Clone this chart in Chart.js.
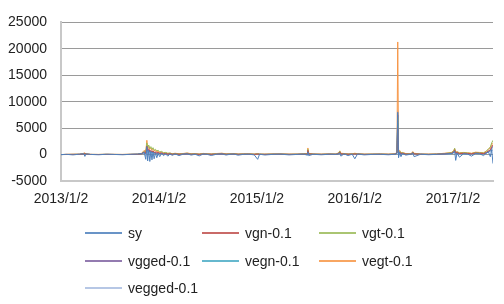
<!DOCTYPE html>
<html>
<head>
<meta charset="utf-8">
<script src="https://cdn.jsdelivr.net/npm/chart.js@4.4.1/dist/chart.umd.min.js"></script>
<style>
  html, body { margin: 0; padding: 0; background: #fff; }
  #wrap { position: relative; width: 504px; height: 304px; overflow: hidden; }
  #chart { position: absolute; left: 0; top: 0; }
  .legend-item { position: absolute; height: 16px; display: flex; align-items: center;
    font: 14px "Liberation Sans", Arial, sans-serif; color: #222; white-space: nowrap; }
  .legend-item .swatch { width: 37px; height: 2px; margin-right: 6px; opacity: 0.85; }
</style>
</head>
<body>
<div id="wrap">
  <canvas id="chart" width="504" height="304"></canvas>
</div>
<script>
// days since 2013/1/2
const days = [
  0, 20, 45, 70, 85, 89, 93, 110, 140, 170, 200, 230, 260, 285, 300,
  310, 316, 320, 323, 327, 331, 335, 339, 343, 347, 352, 357, 362, 368, 375, 382, 390, 398, 406, 415,
  425, 440, 455, 470, 485, 500, 515, 530, 545, 560, 580, 600, 615, 630, 645, 660, 680, 700, 720, 733,
  740, 760, 790, 820, 850, 880, 905, 917, 920, 923, 940, 970, 1000, 1025, 1035, 1039, 1043, 1055, 1070, 1085, 1095, 1105, 1130, 1160, 1190, 1220, 1245, 1252,
  1255, 1258, 1262, 1267, 1272, 1285, 1305, 1311, 1316, 1340, 1370, 1400, 1430, 1455, 1464, 1467, 1471, 1476, 1485, 1500, 1515, 1530, 1545, 1560, 1575, 1585, 1593, 1600, 1605, 1610
];
const tickDays = [0, 365, 730, 1095, 1461];
const tickLabels = ['2013/1/2', '2014/1/2', '2015/1/2', '2016/1/2', '2017/1/2'];
const seriesNames = ['sy', 'vgn-0.1', 'vgt-0.1', 'vgged-0.1', 'vegn-0.1', 'vegt-0.1', 'vegged-0.1'];
const seriesColors = ['#4f81bd', '#c0504d', '#9bbb59', '#8064a2', '#4bacc6', '#f79646', '#a9bde0'];

const sy = [
  0, 40, -60, 80, 150, -350, 120, 30, -40, 60, 20, -30, 50, 90, 200,
  400, -900, 1500, -1200, 800, -1300, 600, -1000, 500, -800, 300, -600, 200, -400, 300, -200, 150, -300, 100, -150,
  120, -200, 80, 150, -100, 60, -250, 100, 40, -180, 70, 130, -90, 50, 90, -120, 40, 60, -50, -900,
  60, -80, 40, 70, -60, 30, 80, -100, 500, -200, 50, -40, 60, 30, 150, 300, -300, 120, -200, 80, -800, 100, -60, 30, 50, -40, 60, 200,
  8000, -600, 400, -400, 200, -100, 80, 300, -400, 60, -30, 40, 120, 200, 400, 700, -1100, 300, -500, 150, 100, -300, 200, 150, -200, 300, 500, -400, 900, -1700
];
const vgn = [
  0, 20, 30, 40, 120, 200, 80, 20, 10, 30, 20, 10, 30, 50, 150,
  500, 300, 1600, 900, 1100, 600, 800, 500, 700, 400, 500, 300, 400, 250, 300, 150, 200, 100, 150, 80,
  120, 60, 100, 150, 70, 90, 40, 110, 80, 50, 90, 140, 60, 80, 100, 50, 70, 80, 40, 100,
  50, 40, 60, 70, 40, 50, 80, 100, 800, 150, 60, 40, 70, 50, 200, 500, 150, 100, 60, 80, 120, 90, 40, 50, 60, 40, 70, 300,
  5000, 400, 500, 200, 250, 100, 80, 400, 150, 60, 40, 60, 150, 250, 500, 900, 300, 400, 200, 250, 200, 150, 300, 250, 200, 400, 700, 900, 1500, 1800
];
const vgt = [
  0, 30, 40, 50, 180, 250, 100, 30, 20, 40, 30, 20, 40, 60, 180,
  600, 400, 2200, 1300, 1800, 1200, 1500, 1000, 1300, 800, 1000, 700, 800, 500, 600, 350, 400, 250, 300, 150,
  200, 100, 160, 250, 120, 140, 80, 180, 120, 90, 150, 220, 90, 130, 160, 80, 110, 120, 70, 150,
  80, 60, 90, 100, 60, 80, 120, 150, 1000, 200, 90, 60, 100, 80, 300, 650, 200, 150, 90, 120, 200, 130, 60, 80, 90, 60, 100, 400,
  7000, 500, 700, 300, 350, 150, 120, 500, 200, 80, 60, 90, 200, 350, 700, 1200, 400, 500, 300, 350, 300, 200, 400, 350, 300, 600, 1100, 1400, 2200, 2700
];
const vgged = [
  0, 20, 20, 30, 100, 150, 60, 20, 10, 20, 10, 10, 20, 40, 120,
  400, 200, 1400, 700, 900, 500, 700, 400, 600, 300, 400, 250, 300, 200, 250, 120, 150, 80, 120, 60,
  100, 50, 80, 120, 60, 70, 30, 90, 60, 40, 70, 110, 50, 60, 80, 40, 60, 60, 30, 80,
  40, 30, 50, 60, 30, 40, 60, 80, 600, 120, 50, 30, 60, 40, 150, 400, 100, 80, 50, 60, 100, 70, 30, 40, 50, 30, 60, 250,
  7500, 300, 400, 150, 200, 80, 60, 300, 120, 50, 30, 50, 120, 200, 400, 700, 250, 300, 150, 200, 150, 120, 250, 200, 150, 300, 600, 800, 1300, 1600
];
const vegn = [
  0, 10, 20, 30, 90, 130, 50, 10, 10, 20, 10, 0, 20, 30, 100,
  350, 150, 1200, 600, 800, 400, 600, 350, 500, 250, 350, 200, 250, 150, 200, 100, 120, 60, 100, 50,
  80, 40, 70, 100, 50, 60, 20, 80, 50, 30, 60, 90, 40, 50, 70, 30, 50, 50, 20, 60,
  30, 20, 40, 50, 20, 30, 50, 70, 500, 100, 40, 20, 50, 30, 120, 350, 80, 60, 40, 50, 80, 60, 20, 30, 40, 20, 50, 200,
  6000, 250, 350, 120, 150, 60, 50, 250, 100, 40, 20, 40, 100, 150, 350, 600, 200, 250, 120, 150, 120, 100, 200, 150, 120, 250, 500, 700, 1100, 1400
];
const vegt = [
  0, 40, 60, 80, 250, 300, 150, 40, 30, 60, 40, 30, 60, 90, 220,
  800, 500, 2700, 1200, 1500, 1000, 1200, 800, 1000, 700, 800, 500, 600, 400, 450, 300, 350, 200, 250, 150,
  250, 150, 200, 300, 150, 180, 100, 220, 150, 120, 200, 260, 120, 160, 200, 100, 140, 150, 90, 180,
  100, 80, 120, 130, 80, 100, 150, 200, 1250, 250, 120, 80, 130, 100, 350, 700, 250, 200, 120, 150, 250, 160, 80, 100, 120, 80, 130, 500,
  21300, 700, 800, 350, 400, 200, 150, 550, 250, 100, 80, 120, 250, 400, 750, 1100, 450, 550, 350, 400, 350, 250, 450, 400, 350, 650, 1000, 1300, 1900, 2100
];
const vegged = [
  0, 20, 30, 40, 130, 100, 70, 20, 10, 30, 20, 10, 30, 40, 130,
  450, -300, 1500, 200, 900, 100, 700, 150, 600, 100, 400, 80, 300, 50, 200, 40, 150, 30, 100, 20,
  100, 0, 80, 120, 20, 60, -50, 90, 40, 0, 70, 100, 10, 60, 70, 0, 40, 60, 10, 50,
  30, 10, 40, 50, 10, 30, 60, 40, 600, 50, 40, 10, 50, 30, 150, 400, 50, 80, 20, 50, 0, 60, 10, 30, 40, 10, 50, 250,
  8300, 200, 400, 0, 180, 60, 50, 300, 0, 40, 10, 40, 100, 180, 400, 700, 0, 300, 50, 200, 120, 50, 250, 200, 100, 300, 600, 500, 1200, 600
];
const seriesValues = [sy, vgn, vgt, vgged, vegn, vegt, vegged];

const fontSpec = { family: '"Liberation Sans", Arial, sans-serif', size: 14 };

const datasets = seriesNames.map((name, i) => ({
  label: name,
  data: days.map((d, j) => ({ x: d, y: seriesValues[i][j] })),
  borderColor: seriesColors[i],
  backgroundColor: seriesColors[i],
  borderWidth: 1,
  pointRadius: 0,
  tension: 0,
}));

const chart = new Chart(document.getElementById('chart'), {
  type: 'line',
  data: { datasets },
  options: {
    responsive: false,
    animation: false,
    layout: { padding: { top: 11, right: 11, left: 0, bottom: 0 } },
    plugins: { legend: { display: false }, tooltip: { enabled: false } },
    scales: {
      x: {
        type: 'linear',
        min: 0,
        max: 1610,
        grid: { display: false, drawTicks: false },
        border: { display: true, color: '#c8c8c8', width: 2 },
        afterBuildTicks(axis) {
          axis.ticks = tickDays.map((v) => ({ value: v }));
        },
        afterFit(axis) { axis.height = 123; },
        ticks: {
          padding: 10,
          autoSkip: false,
          maxRotation: 0,
          color: '#222',
          font: fontSpec,
          callback(value) {
            const idx = tickDays.indexOf(value);
            return idx >= 0 ? tickLabels[idx] : '';
          },
        },
      },
      y: {
        min: -5000,
        max: 25000,
        grid: { color: '#9a9a9a', lineWidth: 1, drawTicks: false },
        border: { display: true, color: '#c8c8c8', width: 2 },
        afterFit(axis) { axis.width = 61; },
        ticks: {
          stepSize: 5000,
          padding: 14,
          color: '#222',
          font: fontSpec,
          callback: (value) => String(value),
        },
      },
    },
  },
});

// legend laid out as a 3-column grid like the original
const wrap = document.getElementById('wrap');
chart.data.datasets.forEach((ds, i) => {
  const col = i % 3;
  const row = Math.floor(i / 3);
  const item = document.createElement('div');
  item.className = 'legend-item';
  item.style.left = (85 + col * 117) + 'px';
  item.style.top = (225 + row * 27.5) + 'px';
  const swatch = document.createElement('span');
  swatch.className = 'swatch';
  swatch.style.background = ds.borderColor;
  const label = document.createElement('span');
  label.textContent = ds.label;
  item.append(swatch, label);
  wrap.appendChild(item);
});
</script>
</body>
</html>
